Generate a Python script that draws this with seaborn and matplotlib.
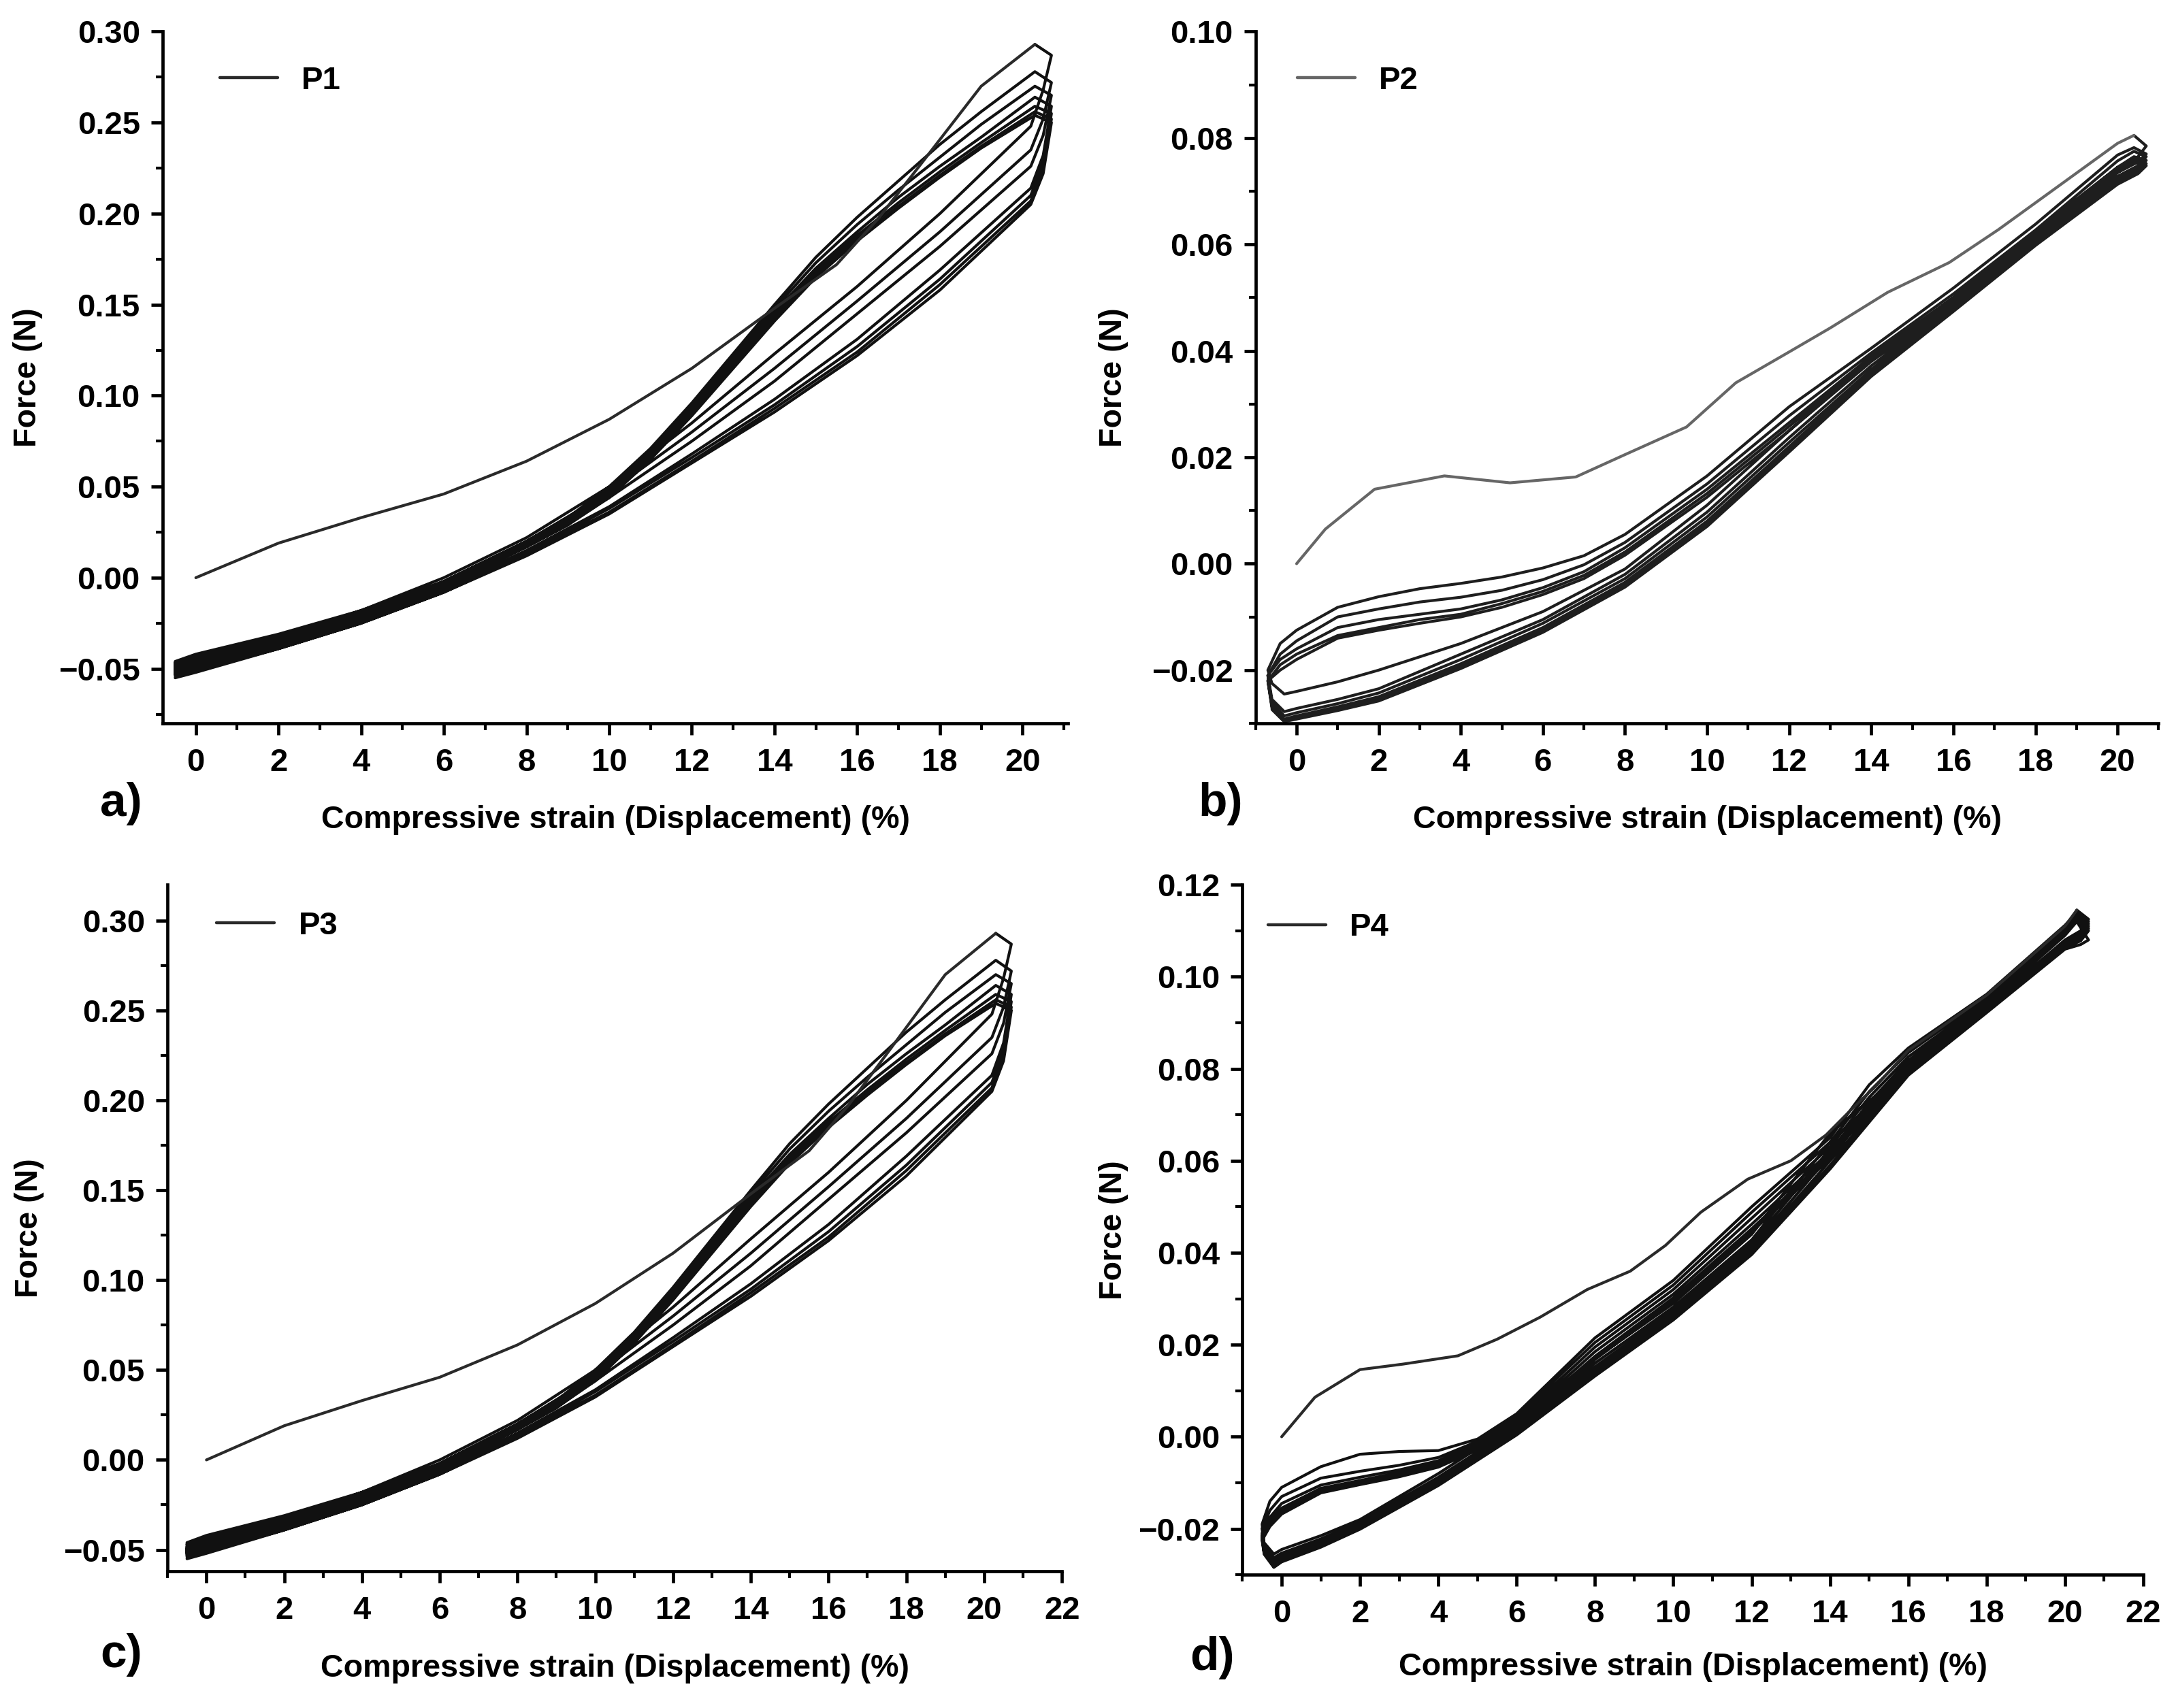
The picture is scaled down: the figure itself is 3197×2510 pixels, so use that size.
import matplotlib
matplotlib.use("Agg")
import matplotlib.pyplot as plt
import pandas as pd
import seaborn as sns
from matplotlib.ticker import FuncFormatter, MultipleLocator

# ---------------- P1 (also shown as P3) ----------------
P1_INIT_X = [0, 2, 4, 6, 8, 10, 12, 14, 15.5, 16.5, 17.5, 19, 20.3]
P1_INIT_Y = [0, 0.019, 0.033, 0.046, 0.064, 0.087, 0.115, 0.148, 0.172, 0.197, 0.226, 0.270, 0.293]

P1_UP_X = [-0.5, 0, 2, 4, 6, 8, 9, 10, 11, 12, 13, 14, 15, 16, 17, 18, 19, 20.3]
P1_UP_Y = [
    [-0.046, -0.042, -0.031, -0.018, -0.002, 0.020, 0.033, 0.050, 0.071, 0.096, 0.123, 0.150, 0.176, 0.198, 0.218, 0.238, 0.256, 0.278],
    [-0.047, -0.043, -0.032, -0.019, -0.003, 0.019, 0.032, 0.049, 0.070, 0.094, 0.121, 0.148, 0.173, 0.194, 0.213, 0.231, 0.249, 0.270],
    [-0.048, -0.044, -0.033, -0.019, -0.003, 0.019, 0.031, 0.048, 0.069, 0.093, 0.119, 0.146, 0.170, 0.190, 0.209, 0.226, 0.242, 0.264],
    [-0.049, -0.045, -0.034, -0.020, -0.004, 0.018, 0.030, 0.046, 0.067, 0.091, 0.117, 0.144, 0.168, 0.188, 0.206, 0.223, 0.239, 0.259],
    [-0.050, -0.046, -0.035, -0.021, -0.005, 0.017, 0.029, 0.045, 0.066, 0.090, 0.116, 0.142, 0.166, 0.186, 0.204, 0.221, 0.237, 0.256],
    [-0.050, -0.046, -0.035, -0.021, -0.005, 0.017, 0.029, 0.044, 0.065, 0.089, 0.115, 0.141, 0.165, 0.185, 0.203, 0.220, 0.236, 0.254],
]
P1_DN_X = [20.7, 20.5, 20.2, 18, 16, 14, 12, 10, 8, 6, 4, 2, 0, -0.5]
P1_DN_Y = [
    [0.287, 0.268, 0.248, 0.200, 0.160, 0.123, 0.085, 0.050, 0.022, 0.000, -0.018, -0.033, -0.045, -0.047],
    [0.272, 0.252, 0.235, 0.190, 0.152, 0.115, 0.080, 0.047, 0.020, -0.002, -0.020, -0.035, -0.047, -0.050],
    [0.265, 0.243, 0.226, 0.182, 0.145, 0.108, 0.075, 0.044, 0.017, -0.004, -0.022, -0.036, -0.048, -0.051],
    [0.259, 0.232, 0.214, 0.169, 0.131, 0.098, 0.068, 0.039, 0.015, -0.006, -0.023, -0.037, -0.049, -0.052],
    [0.255, 0.228, 0.210, 0.164, 0.127, 0.095, 0.066, 0.038, 0.014, -0.007, -0.024, -0.038, -0.050, -0.053],
    [0.252, 0.225, 0.207, 0.161, 0.124, 0.093, 0.064, 0.036, 0.013, -0.008, -0.025, -0.039, -0.051, -0.054],
    [0.250, 0.222, 0.205, 0.158, 0.122, 0.091, 0.063, 0.035, 0.012, -0.008, -0.025, -0.039, -0.052, -0.055],
]

# ---------------- P2 ----------------
P2_INIT_X = [0, 0.7, 1.9, 3.6, 5.2, 6.8, 8.0, 9.5, 10.7, 12.0, 13.0, 14.4, 15.9, 17.1, 18.3, 20.0, 20.4]
P2_INIT_Y = [0, 0.0065, 0.014, 0.0165, 0.0152, 0.0163, 0.0205, 0.0257, 0.034, 0.0398, 0.0443, 0.051,
             0.0566, 0.0628, 0.0695, 0.0790, 0.0805]

P2_UP_X = [-0.7, -0.4, 0, 1, 2, 3, 4, 5, 6, 7, 8, 10, 12, 14, 16, 18, 20, 20.4]
P2_UP_Y = [
    [-0.0200, -0.0150, -0.0125, -0.0082, -0.0062, -0.0047, -0.0037, -0.0025, -0.0008, 0.0015, 0.0055, 0.0165, 0.0295, 0.0405, 0.0518, 0.0638, 0.0768, 0.0782],
    [-0.0210, -0.0170, -0.0145, -0.0100, -0.0085, -0.0072, -0.0063, -0.0050, -0.0030, -0.0002, 0.0040, 0.0150, 0.0278, 0.0396, 0.0507, 0.0627, 0.0757, 0.0775],
    [-0.0210, -0.0180, -0.0160, -0.0120, -0.0105, -0.0095, -0.0085, -0.0068, -0.0045, -0.0015, 0.0030, 0.0140, 0.0265, 0.0390, 0.0500, 0.0620, 0.0745, 0.0765],
    [-0.0220, -0.0190, -0.0170, -0.0135, -0.0120, -0.0105, -0.0095, -0.0075, -0.0052, -0.0022, 0.0022, 0.0132, 0.0258, 0.0385, 0.0495, 0.0615, 0.0740, 0.0760],
    [-0.0220, -0.0200, -0.0180, -0.0140, -0.0125, -0.0112, -0.0100, -0.0082, -0.0058, -0.0028, 0.0016, 0.0125, 0.0250, 0.0380, 0.0490, 0.0610, 0.0735, 0.0755],
]
P2_DN_X = [20.7, 20.5, 20, 18, 16, 14, 12, 10, 8, 6, 4, 2, 1, 0, -0.3, -0.6]
P2_DN_Y = [
    [0.0785, 0.0765, 0.0745, 0.0625, 0.0500, 0.0385, 0.0250, 0.0110, -0.0010, -0.0090, -0.0150, -0.0200, -0.0222, -0.0240, -0.0245, -0.0225],
    [0.0770, 0.0755, 0.0735, 0.0615, 0.0490, 0.0372, 0.0237, 0.0097, -0.0020, -0.0105, -0.0170, -0.0235, -0.0255, -0.0272, -0.0278, -0.0255],
    [0.0765, 0.0748, 0.0728, 0.0610, 0.0486, 0.0365, 0.0228, 0.0088, -0.0028, -0.0112, -0.0180, -0.0243, -0.0263, -0.0280, -0.0286, -0.0262],
    [0.0758, 0.0742, 0.0722, 0.0605, 0.0481, 0.0360, 0.0220, 0.0080, -0.0035, -0.0120, -0.0188, -0.0250, -0.0269, -0.0286, -0.0292, -0.0268],
    [0.0752, 0.0737, 0.0717, 0.0601, 0.0477, 0.0355, 0.0214, 0.0074, -0.0040, -0.0125, -0.0193, -0.0255, -0.0273, -0.0290, -0.0296, -0.0272],
    [0.0748, 0.0733, 0.0713, 0.0598, 0.0474, 0.0352, 0.0210, 0.0070, -0.0044, -0.0129, -0.0197, -0.0258, -0.0276, -0.0292, -0.0297, -0.0274],
]

# ---------------- P3 (same record as P1) ----------------
P3_INIT_X, P3_INIT_Y = P1_INIT_X, P1_INIT_Y
P3_UP_X, P3_UP_Y = P1_UP_X, P1_UP_Y
P3_DN_X, P3_DN_Y = P1_DN_X, P1_DN_Y

# ---------------- P4 ----------------
P4_INIT_X = [0, 0.85, 2.0, 3.1, 4.5, 5.5, 6.6, 7.8, 8.9, 9.8, 10.7, 11.9, 13.0, 13.9, 14.6, 15.2, 16, 18, 20, 20.3]
P4_INIT_Y = [0, 0.0086, 0.0146, 0.0158, 0.0176, 0.0212, 0.026, 0.032, 0.036, 0.0416, 0.0488, 0.056,
             0.060, 0.0656, 0.0716, 0.0765, 0.0840, 0.0960, 0.1110, 0.1145]

P4_UP_X = [-0.5, -0.3, 0, 1, 2, 3, 4, 5, 6, 8, 10, 12, 14, 15, 16, 18, 20, 20.3]
P4_UP_Y = [
    [-0.0190, -0.0140, -0.0110, -0.0065, -0.0038, -0.0032, -0.0030, -0.0005, 0.0050, 0.0215, 0.0340, 0.0500, 0.0650, 0.0765, 0.0845, 0.0962, 0.1112, 0.1140],
    [-0.0200, -0.0160, -0.0130, -0.0090, -0.0075, -0.0062, -0.0045, -0.0010, 0.0045, 0.0205, 0.0330, 0.0488, 0.0640, 0.0750, 0.0835, 0.0956, 0.1106, 0.1135],
    [-0.0210, -0.0175, -0.0145, -0.0105, -0.0088, -0.0072, -0.0052, -0.0015, 0.0038, 0.0195, 0.0320, 0.0475, 0.0630, 0.0738, 0.0826, 0.0950, 0.1100, 0.1130],
    [-0.0215, -0.0182, -0.0155, -0.0112, -0.0095, -0.0078, -0.0058, -0.0020, 0.0032, 0.0185, 0.0310, 0.0462, 0.0620, 0.0727, 0.0818, 0.0946, 0.1096, 0.1126],
    [-0.0220, -0.0190, -0.0162, -0.0118, -0.0100, -0.0083, -0.0062, -0.0024, 0.0027, 0.0175, 0.0302, 0.0452, 0.0612, 0.0718, 0.0812, 0.0943, 0.1093, 0.1123],
    [-0.0225, -0.0195, -0.0168, -0.0122, -0.0104, -0.0087, -0.0066, -0.0028, 0.0024, 0.0168, 0.0296, 0.0445, 0.0605, 0.0712, 0.0806, 0.0940, 0.1090, 0.1120],
]
P4_DN_X = [20.6, 20.4, 20, 18, 16, 14, 12, 10, 8, 6, 4, 2, 1, 0, -0.2, -0.45]
P4_DN_Y = [
    [0.1125, 0.1100, 0.1080, 0.0935, 0.0800, 0.0660, 0.0440, 0.0290, 0.0170, 0.0030, -0.0080, -0.0180, -0.0215, -0.0245, -0.0255, -0.0230],
    [0.1120, 0.1095, 0.1075, 0.0932, 0.0797, 0.0640, 0.0428, 0.0282, 0.0160, 0.0022, -0.0088, -0.0186, -0.0222, -0.0253, -0.0263, -0.0238],
    [0.1115, 0.1090, 0.1072, 0.0930, 0.0795, 0.0625, 0.0420, 0.0275, 0.0152, 0.0016, -0.0094, -0.0191, -0.0228, -0.0259, -0.0270, -0.0244],
    [0.1110, 0.1086, 0.1069, 0.0928, 0.0792, 0.0612, 0.0412, 0.0268, 0.0146, 0.0012, -0.0098, -0.0194, -0.0232, -0.0264, -0.0275, -0.0248],
    [0.1105, 0.1082, 0.1066, 0.0926, 0.0790, 0.0600, 0.0405, 0.0262, 0.0140, 0.0009, -0.0101, -0.0197, -0.0235, -0.0267, -0.0279, -0.0251],
    [0.1100, 0.1078, 0.1063, 0.0924, 0.0788, 0.0590, 0.0400, 0.0258, 0.0136, 0.0006, -0.0104, -0.0199, -0.0238, -0.0270, -0.0282, -0.0253],
    [0.1080, 0.1070, 0.1060, 0.0922, 0.0786, 0.0582, 0.0396, 0.0254, 0.0132, 0.0004, -0.0106, -0.0201, -0.0240, -0.0272, -0.0284, -0.0255],
]

X_LABEL = "Compressive strain (Displacement) (%)"
Y_LABEL = "Force (N)"


def cycle_frame(init_x, init_y, up_x, up_ys, dn_x, dn_ys):
    """Chain unloading/reloading branches into one continuous path."""
    xs, ys = [init_x[-1]], [init_y[-1]]
    for k, dn in enumerate(dn_ys):
        if k > 0:
            xs += list(up_x)
            ys += list(up_ys[k - 1])
        xs += list(dn_x)
        ys += list(dn)
    return pd.DataFrame({"strain": xs, "force": ys})


def draw_panel(ax, name, init_x, init_y, up_x, up_ys, dn_x, dn_ys,
               xlim, ylim, ystep, init_color, loop_color, leg_pos, ylab_x, xlab_y):
    loops = cycle_frame(init_x, init_y, up_x, up_ys, dn_x, dn_ys)
    sns.lineplot(data=loops, x="strain", y="force", sort=False, estimator=None,
                 color=loop_color, lw=1.5, ax=ax)
    first = pd.DataFrame({"strain": init_x, "force": init_y})
    sns.lineplot(data=first, x="strain", y="force", sort=False, estimator=None,
                 color=init_color, lw=1.5, label=name, ax=ax)

    ax.set_xlim(*xlim)
    ax.set_ylim(*ylim)
    ax.xaxis.set_major_locator(MultipleLocator(2))
    ax.xaxis.set_minor_locator(MultipleLocator(1))
    ax.yaxis.set_major_locator(MultipleLocator(ystep))
    ax.yaxis.set_minor_locator(MultipleLocator(ystep / 2))
    ax.xaxis.set_major_formatter(FuncFormatter(lambda v, p: f"{v:.0f}"))

    def yfmt(v, p):
        if abs(v) < 1e-9:
            v = 0.0
        return f"{v:.2f}".replace("-", "\u2212")

    ax.yaxis.set_major_formatter(FuncFormatter(yfmt))
    sns.despine(ax=ax)
    for side in ("left", "bottom"):
        ax.spines[side].set_linewidth(1.7)
    ax.tick_params(which="major", direction="out", length=6, width=1.7,
                   labelsize=17, color="black")
    ax.tick_params(which="minor", direction="out", length=3.5, width=1.5, color="black")
    ax.tick_params(axis="y", which="major", pad=6)
    ax.tick_params(axis="x", which="major", pad=7)
    plt.setp(ax.get_xticklabels() + ax.get_yticklabels(), fontweight="bold")

    ax.set_xlabel(X_LABEL, fontsize=16.8, fontweight="bold", va="center")
    ax.set_ylabel(Y_LABEL, fontsize=16.8, fontweight="bold", va="center")
    ax.xaxis.set_label_coords(0.5, xlab_y)
    ax.yaxis.set_label_coords(ylab_x, 0.5)

    leg = ax.legend(loc="center left", bbox_to_anchor=leg_pos, frameon=False,
                    handlelength=1.8, handletextpad=0.75, borderpad=0,
                    borderaxespad=0, prop={"size": 17, "weight": "bold"})
    for h in leg.get_lines():
        h.set_linewidth(1.6)


sns.set_theme(style="ticks")
plt.rcParams["font.family"] = ["Liberation Sans", "DejaVu Sans"]
plt.rcParams["axes.edgecolor"] = "black"
plt.rcParams["text.color"] = "black"
plt.rcParams["axes.labelcolor"] = "black"
plt.rcParams["xtick.color"] = "black"
plt.rcParams["ytick.color"] = "black"

fig = plt.figure(figsize=(15.985, 12.55), dpi=200)
ax_a = fig.add_axes([0.0748, 0.5765, 0.416, 0.405])
ax_b = fig.add_axes([0.577, 0.5765, 0.415, 0.405])
ax_c = fig.add_axes([0.077, 0.080, 0.411, 0.402])
ax_d = fig.add_axes([0.571, 0.078, 0.414, 0.404])

draw_panel(ax_a, "P1", P1_INIT_X, P1_INIT_Y, P1_UP_X, P1_UP_Y, P1_DN_X, P1_DN_Y,
           (-0.8, 21.1), (-0.08, 0.30), 0.05, "#2a2a2a", "#111111",
           (0.063, 0.929), -0.149, -0.14)
draw_panel(ax_b, "P2", P2_INIT_X, P2_INIT_Y, P2_UP_X, P2_UP_Y, P2_DN_X, P2_DN_Y,
           (-1.0, 21.0), (-0.03, 0.10), 0.02, "#666666", "#1e1e1e",
           (0.046, 0.929), -0.157, -0.14)
draw_panel(ax_c, "P3", P3_INIT_X, P3_INIT_Y, P3_UP_X, P3_UP_Y, P3_DN_X, P3_DN_Y,
           (-1.0, 22.0), (-0.062, 0.32), 0.05, "#2a2a2a", "#111111",
           (0.055, 0.940), -0.155, -0.142)
draw_panel(ax_d, "P4", P4_INIT_X, P4_INIT_Y, P4_UP_X, P4_UP_Y, P4_DN_X, P4_DN_Y,
           (-1.0, 22.0), (-0.03, 0.12), 0.02, "#2a2a2a", "#111111",
           (0.028, 0.938), -0.143, -0.134)

for letter, (fx, fy) in zip(["a)", "b)", "c)", "d)"],
                            [(0.0557, 0.5295), (0.561, 0.5295), (0.0557, 0.031), (0.557, 0.0295)]):
    fig.text(fx, fy, letter, fontsize=25, fontweight="bold", ha="center", va="center")

fig.savefig("out.png", dpi=200, facecolor="white")
